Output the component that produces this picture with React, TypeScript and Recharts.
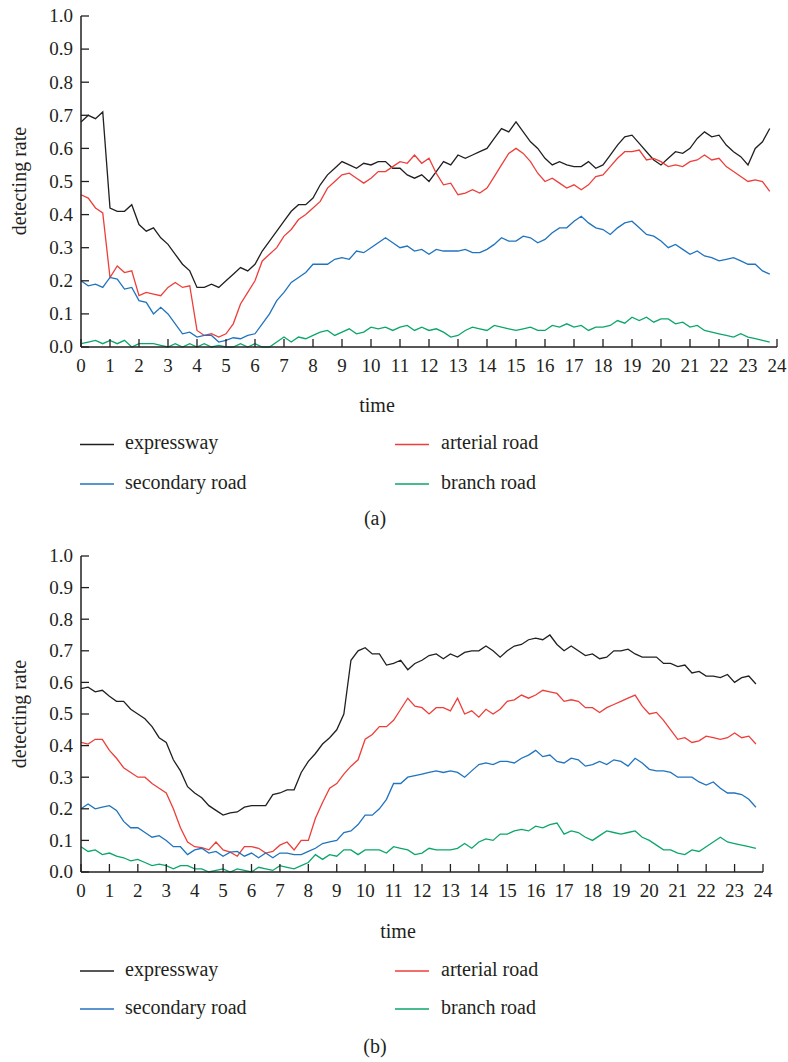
import { LineChart, Line, XAxis, YAxis } from 'recharts';

// time of day in quarter hours, 0 .. 23.75
const TIME = Array.from({ length: 96 }, (_, i) => i / 4);
const HOUR_TICKS = [0, 1, 2, 3, 4, 5, 6, 7, 8, 9, 10, 11, 12, 13, 14, 15, 16, 17, 18, 19, 20, 21, 22, 23, 24];
const RATE_TICKS = [0, 0.1, 0.2, 0.3, 0.4, 0.5, 0.6, 0.7, 0.8, 0.9, 1];

const SERIES = [
  { key: 'expressway', name: 'expressway', color: '#231f20' },
  { key: 'arterial', name: 'arterial road', color: '#ee3e3a' },
  { key: 'secondary', name: 'secondary road', color: '#1f73bf' },
  { key: 'branch', name: 'branch road', color: '#0ba66a' },
];

// panel (a)
const EXPRESS_A = [
  0.68, 0.70, 0.69, 0.71, 0.42, 0.41, 0.41, 0.43,
  0.37, 0.35, 0.36, 0.33, 0.31, 0.28, 0.25, 0.23,
  0.18, 0.18, 0.19, 0.18, 0.20, 0.22, 0.24, 0.23,
  0.25, 0.29, 0.32, 0.35, 0.38, 0.41, 0.43, 0.43,
  0.45, 0.49, 0.52, 0.54, 0.56, 0.55, 0.54, 0.555,
  0.55, 0.56, 0.56, 0.54, 0.54, 0.52, 0.51, 0.52,
  0.50, 0.53, 0.56, 0.55, 0.58, 0.57, 0.58, 0.59,
  0.60, 0.63, 0.66, 0.65, 0.68, 0.65, 0.62, 0.60,
  0.57, 0.55, 0.56, 0.55, 0.545, 0.545, 0.56, 0.54,
  0.55, 0.58, 0.61, 0.635, 0.64, 0.615, 0.59, 0.565,
  0.55, 0.57, 0.59, 0.585, 0.60, 0.63, 0.65, 0.635,
  0.64, 0.61, 0.59, 0.575, 0.55, 0.60, 0.62, 0.66,
];
const ARTERIAL_A = [
  0.46, 0.45, 0.42, 0.405, 0.21, 0.245, 0.225, 0.23,
  0.155, 0.165, 0.16, 0.155, 0.18, 0.195, 0.18, 0.185,
  0.05, 0.035, 0.04, 0.03, 0.04, 0.07, 0.13, 0.165,
  0.20, 0.26, 0.28, 0.30, 0.335, 0.355, 0.385, 0.40,
  0.42, 0.44, 0.48, 0.50, 0.52, 0.525, 0.51, 0.495,
  0.51, 0.53, 0.53, 0.545, 0.56, 0.555, 0.58, 0.555,
  0.57, 0.525, 0.49, 0.495, 0.46, 0.465, 0.475, 0.465,
  0.48, 0.515, 0.55, 0.585, 0.60, 0.585, 0.56, 0.525,
  0.50, 0.51, 0.495, 0.48, 0.49, 0.475, 0.49, 0.515,
  0.52, 0.545, 0.57, 0.59, 0.59, 0.595, 0.565, 0.57,
  0.56, 0.545, 0.55, 0.545, 0.56, 0.565, 0.58, 0.565,
  0.57, 0.545, 0.53, 0.515, 0.50, 0.505, 0.50, 0.47,
];
const SECONDARY_A = [
  0.20, 0.185, 0.19, 0.18, 0.21, 0.205, 0.175, 0.18,
  0.14, 0.135, 0.10, 0.12, 0.10, 0.07, 0.04, 0.045,
  0.03, 0.035, 0.035, 0.015, 0.02, 0.028, 0.025, 0.035,
  0.04, 0.07, 0.10, 0.14, 0.165, 0.195, 0.21, 0.225,
  0.25, 0.25, 0.25, 0.265, 0.27, 0.265, 0.29, 0.285,
  0.30, 0.315, 0.33, 0.315, 0.30, 0.305, 0.29, 0.295,
  0.28, 0.295, 0.29, 0.29, 0.29, 0.295, 0.285, 0.285,
  0.295, 0.31, 0.33, 0.32, 0.32, 0.335, 0.33, 0.315,
  0.325, 0.345, 0.36, 0.36, 0.38, 0.395, 0.375, 0.36,
  0.355, 0.34, 0.36, 0.375, 0.38, 0.36, 0.34, 0.335,
  0.32, 0.30, 0.31, 0.295, 0.28, 0.29, 0.275, 0.27,
  0.26, 0.265, 0.27, 0.26, 0.25, 0.25, 0.23, 0.22,
];
const BRANCH_A = [
  0.01, 0.015, 0.02, 0.01, 0.02, 0.01, 0.02, 0.0,
  0.01, 0.01, 0.01, 0.005, 0.0, 0.01, 0.0, 0.01,
  0.0, 0.01, 0.0, 0.005, 0.0, 0.0, 0.01, 0.0,
  0.01, 0.0, 0.0, 0.015, 0.03, 0.015, 0.03, 0.025,
  0.035, 0.045, 0.05, 0.035, 0.045, 0.055, 0.04, 0.045,
  0.06, 0.055, 0.06, 0.05, 0.06, 0.065, 0.05, 0.06,
  0.05, 0.055, 0.045, 0.03, 0.035, 0.05, 0.06, 0.055,
  0.05, 0.065, 0.06, 0.055, 0.05, 0.055, 0.06, 0.05,
  0.05, 0.065, 0.06, 0.07, 0.06, 0.065, 0.05, 0.06,
  0.06, 0.065, 0.08, 0.072, 0.09, 0.08, 0.09, 0.075,
  0.085, 0.085, 0.07, 0.075, 0.06, 0.065, 0.05, 0.045,
  0.04, 0.035, 0.03, 0.04, 0.03, 0.025, 0.02, 0.015,
];

// panel (b)
const EXPRESS_B = [
  0.58, 0.585, 0.57, 0.575, 0.556, 0.54, 0.54, 0.515,
  0.50, 0.485, 0.46, 0.425, 0.41, 0.355, 0.32, 0.27,
  0.25, 0.235, 0.21, 0.195, 0.18, 0.187, 0.19, 0.205,
  0.21, 0.21, 0.21, 0.245, 0.25, 0.26, 0.26, 0.315,
  0.35, 0.375, 0.405, 0.425, 0.45, 0.50, 0.67, 0.70,
  0.71, 0.69, 0.69, 0.655, 0.66, 0.67, 0.64, 0.66,
  0.67, 0.685, 0.69, 0.675, 0.69, 0.68, 0.695, 0.70,
  0.70, 0.715, 0.70, 0.68, 0.70, 0.715, 0.72, 0.735,
  0.74, 0.735, 0.75, 0.72, 0.70, 0.715, 0.70, 0.685,
  0.69, 0.675, 0.68, 0.70, 0.70, 0.705, 0.69, 0.68,
  0.68, 0.68, 0.66, 0.66, 0.65, 0.655, 0.63, 0.635,
  0.62, 0.62, 0.615, 0.625, 0.60, 0.615, 0.62, 0.595,
];
const ARTERIAL_B = [
  0.41, 0.405, 0.42, 0.42, 0.385, 0.36, 0.33, 0.315,
  0.30, 0.30, 0.28, 0.265, 0.25, 0.20, 0.14, 0.095,
  0.08, 0.077, 0.07, 0.095, 0.07, 0.063, 0.05, 0.08,
  0.08, 0.075, 0.06, 0.065, 0.085, 0.095, 0.07, 0.10,
  0.10, 0.17, 0.22, 0.265, 0.28, 0.31, 0.335, 0.355,
  0.42, 0.435, 0.46, 0.46, 0.48, 0.515, 0.55, 0.525,
  0.52, 0.50, 0.52, 0.52, 0.51, 0.55, 0.50, 0.51,
  0.49, 0.515, 0.50, 0.515, 0.54, 0.545, 0.56, 0.55,
  0.56, 0.575, 0.57, 0.565, 0.54, 0.545, 0.54, 0.52,
  0.52, 0.505, 0.52, 0.53, 0.54, 0.55, 0.56, 0.525,
  0.50, 0.505, 0.48, 0.45, 0.42, 0.425, 0.41, 0.415,
  0.43, 0.425, 0.42, 0.425, 0.44, 0.425, 0.43, 0.405,
];
const SECONDARY_B = [
  0.20, 0.215, 0.20, 0.205, 0.21, 0.195, 0.16, 0.14,
  0.14, 0.125, 0.11, 0.115, 0.10, 0.08, 0.08, 0.055,
  0.07, 0.075, 0.06, 0.065, 0.05, 0.063, 0.065, 0.05,
  0.06, 0.045, 0.06, 0.045, 0.06, 0.06, 0.055, 0.055,
  0.065, 0.075, 0.09, 0.095, 0.10, 0.125, 0.13, 0.15,
  0.18, 0.18, 0.20, 0.23, 0.28, 0.28, 0.30, 0.305,
  0.31, 0.315, 0.32, 0.315, 0.32, 0.315, 0.30, 0.32,
  0.34, 0.345, 0.34, 0.35, 0.35, 0.345, 0.36, 0.37,
  0.385, 0.365, 0.37, 0.35, 0.345, 0.36, 0.355, 0.335,
  0.34, 0.35, 0.34, 0.355, 0.35, 0.335, 0.36, 0.345,
  0.325, 0.32, 0.32, 0.315, 0.30, 0.30, 0.30, 0.285,
  0.275, 0.285, 0.265, 0.25, 0.25, 0.245, 0.23, 0.205,
];
const BRANCH_B = [
  0.08, 0.065, 0.07, 0.055, 0.06, 0.05, 0.045, 0.035,
  0.04, 0.03, 0.02, 0.025, 0.02, 0.01, 0.02, 0.02,
  0.01, 0.01, 0.0, 0.005, 0.01, 0.0, 0.01, 0.005,
  0.0, 0.015, 0.01, 0.005, 0.02, 0.015, 0.01, 0.02,
  0.03, 0.055, 0.04, 0.055, 0.05, 0.07, 0.07, 0.055,
  0.07, 0.07, 0.07, 0.06, 0.08, 0.075, 0.07, 0.055,
  0.06, 0.075, 0.07, 0.07, 0.07, 0.075, 0.09, 0.075,
  0.095, 0.105, 0.10, 0.12, 0.12, 0.13, 0.135, 0.13,
  0.145, 0.14, 0.15, 0.155, 0.12, 0.13, 0.125, 0.11,
  0.10, 0.115, 0.13, 0.125, 0.12, 0.125, 0.13, 0.11,
  0.10, 0.085, 0.07, 0.07, 0.06, 0.055, 0.07, 0.065,
  0.08, 0.095, 0.11, 0.095, 0.09, 0.085, 0.08, 0.075,
];

const FONT = '"Liberation Serif", "Times New Roman", serif';
const INK = '#231f20';

function buildRows(exp: number[], art: number[], sec: number[], br: number[]) {
  return TIME.map((time, i) => ({
    time,
    expressway: exp[i],
    arterial: art[i],
    secondary: sec[i],
    branch: br[i],
  }));
}

const ROWS_A = buildRows(EXPRESS_A, ARTERIAL_A, SECONDARY_A, BRANCH_A);
const ROWS_B = buildRows(EXPRESS_B, ARTERIAL_B, SECONDARY_B, BRANCH_B);

function SerifText({ children, size = 19, ...rest }: any) {
  return (
    <text {...rest} fontFamily={FONT} fontSize={size} fill={INK} style={{ fontFamily: FONT }}>
      {children}
    </text>
  );
}

// ticks point into the plot, labels sit outside
function HourTick(props: any) {
  const { x, y, payload } = props;
  return (
    <g>
      <line x1={x} x2={x} y1={y} y2={y - 8} stroke={INK} strokeWidth={1.3} />
      <SerifText x={x} y={y + 25} textAnchor="middle">{payload.value}</SerifText>
    </g>
  );
}

function RateTick(props: any) {
  const { x, y, payload } = props;
  return (
    <g>
      <line x1={x} x2={x + 8} y1={y} y2={y} stroke={INK} strokeWidth={1.3} />
      <SerifText x={x - 8} y={y + 6.3} textAnchor="end">{Number(payload.value).toFixed(1)}</SerifText>
    </g>
  );
}

function Panel({ rows, top, height, right }: { rows: any[]; top: number; height: number; right: number }) {
  return (
    <div style={{ position: 'absolute', left: 0, top }}>
      <LineChart width={788} height={height} data={rows} margin={{ top: 16, right, bottom: 0, left: 0 }}>
        <XAxis
          dataKey="time"
          type="number"
          domain={[0, 24]}
          ticks={HOUR_TICKS}
          interval={0}
          height={30}
          axisLine={{ stroke: INK, strokeWidth: 1.5 }}
          tickLine={false}
          tickSize={0}
          tickMargin={0}
          tick={(p: any) => <HourTick {...p} />}
        />
        <YAxis
          type="number"
          domain={[0, 1]}
          ticks={RATE_TICKS}
          interval={0}
          width={81}
          axisLine={{ stroke: INK, strokeWidth: 1.5 }}
          tickLine={false}
          tickSize={0}
          tickMargin={0}
          tick={(p: any) => <RateTick {...p} />}
        />
        {SERIES.map((s) => (
          <Line
            key={s.key}
            type="linear"
            dataKey={s.key}
            name={s.name}
            stroke={s.color}
            strokeWidth={1.3}
            dot={false}
            activeDot={false}
            isAnimationActive={false}
          />
        ))}
      </LineChart>
    </div>
  );
}

function Captions({ axisMid, timeX, timeY, row1, row2, tag, tagY }: any) {
  const cols = [
    { s: SERIES[0], row: row1, lx: 80, tx: 125 },
    { s: SERIES[1], row: row1, lx: 395, tx: 441 },
    { s: SERIES[2], row: row2, lx: 80, tx: 125 },
    { s: SERIES[3], row: row2, lx: 395, tx: 441 },
  ];
  return (
    <g>
      <SerifText x={26} y={axisMid} size={20} textAnchor="middle" transform={`rotate(-90, 26, ${axisMid})`}>
        detecting rate
      </SerifText>
      <SerifText x={timeX} y={timeY} size={20} textAnchor="middle">time</SerifText>
      {cols.map((c) => (
        <g key={c.s.key}>
          <line x1={c.lx} x2={c.lx + 34} y1={c.row - 4.5} y2={c.row - 4.5} stroke={c.s.color} strokeWidth={1.5} />
          <SerifText x={c.tx} y={c.row} size={20}>{c.s.name}</SerifText>
        </g>
      ))}
      <SerifText x={375} y={tagY} size={20} textAnchor="middle">{tag}</SerifText>
    </g>
  );
}

export default function App() {
  return (
    <div style={{ position: 'absolute', left: 0, top: 0, width: 788, height: 1062, background: '#fff', fontFamily: FONT }}>
      <Panel rows={ROWS_A} top={0} height={377} right={11} />
      <Panel rows={ROWS_B} top={540} height={362} right={25} />
      <svg width={788} height={1062} style={{ position: 'absolute', left: 0, top: 0, pointerEvents: 'none' }}>
        <Captions axisMid={181} timeX={377} timeY={412} row1={449} row2={488.5} tag="(a)" tagY={525} />
        <Captions axisMid={714} timeX={398} timeY={937.5} row1={975.5} row2={1013.5} tag="(b)" tagY={1053} />
      </svg>
    </div>
  );
}
